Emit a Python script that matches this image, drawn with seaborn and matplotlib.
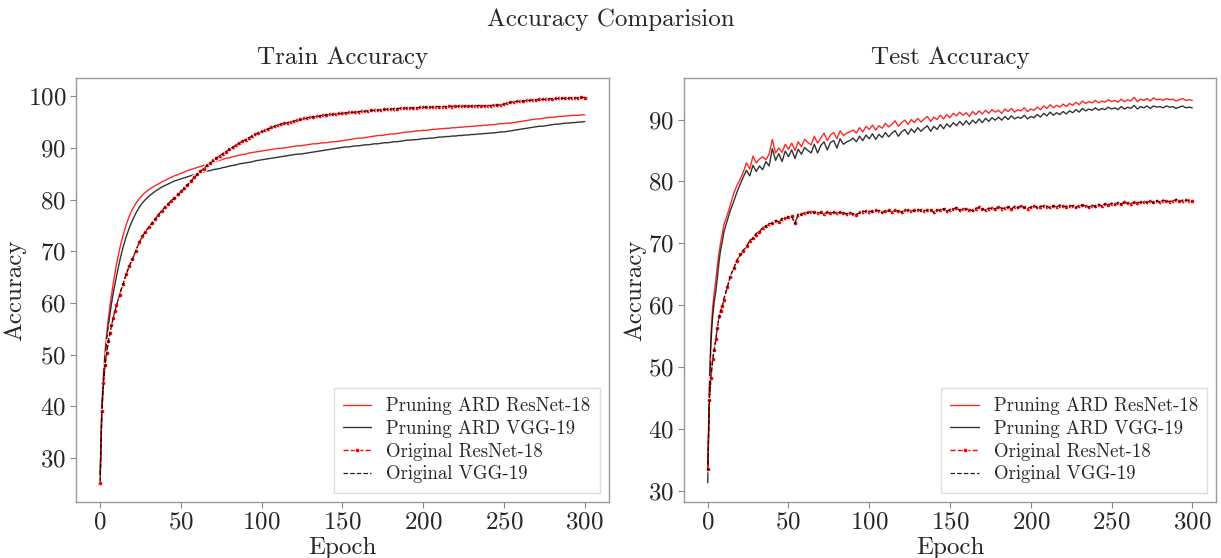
import numpy as np
import pandas as pd
import matplotlib
matplotlib.use('Agg')
import matplotlib.pyplot as plt
import seaborn as sns

# epochs: every epoch up to 10, then every 2nd epoch
epochs = list(range(0, 11)) + list(range(12, 301, 2))

# ---- train accuracy ----
train_pruning_resnet = [
    27.0, 40.0, 46.2, 50.6, 54.0, 56.8, 59.3, 61.5, 63.6, 65.5, 67.3,
    70.4, 72.9, 75.0, 76.8, 78.1, 79.2, 80.1, 80.8, 81.4, 81.9,
    82.3, 82.7, 83.0, 83.4, 83.7, 84.0, 84.3, 84.6, 84.8, 85.1,
    85.3, 85.6, 85.8, 86.0, 86.2, 86.4, 86.6, 86.8, 87.0, 87.2,
    87.4, 87.6, 87.8, 88.0, 88.1, 88.3, 88.4, 88.6, 88.7, 88.8,
    89.0, 89.1, 89.2, 89.3, 89.4, 89.5, 89.6, 89.7, 89.8, 89.9,
    89.9, 90.0, 90.1, 90.2, 90.3, 90.4, 90.4, 90.5, 90.6, 90.7,
    90.8, 90.8, 90.9, 91.0, 91.0, 91.1, 91.2, 91.2, 91.3, 91.4,
    91.5, 91.6, 91.7, 91.8, 91.9, 91.9, 92.0, 92.1, 92.2, 92.3,
    92.4, 92.4, 92.5, 92.6, 92.7, 92.7, 92.8, 92.9, 93.0, 93.1,
    93.1, 93.2, 93.3, 93.3, 93.4, 93.4, 93.5, 93.6, 93.6, 93.7,
    93.7, 93.8, 93.8, 93.9, 93.9, 94.0, 94.0, 94.1, 94.1, 94.2,
    94.2, 94.3, 94.3, 94.4, 94.4, 94.5, 94.5, 94.6, 94.7, 94.7,
    94.8, 94.8, 94.9, 95.0, 95.1, 95.2, 95.3, 95.4, 95.5, 95.6,
    95.6, 95.7, 95.8, 95.9, 95.9, 96.0, 96.1, 96.1, 96.2, 96.2,
    96.3, 96.3, 96.3, 96.4, 96.4]
train_pruning_vgg = [
    26.4, 38.5, 45.0, 49.3, 52.6, 55.3, 57.7, 59.8, 61.7, 63.4, 65.0,
    68.0, 70.6, 72.7, 74.5, 76.0, 77.3, 78.4, 79.3, 80.0, 80.6,
    81.1, 81.6, 82.0, 82.4, 82.7, 83.0, 83.3, 83.6, 83.8, 84.0,
    84.2, 84.4, 84.6, 84.8, 85.0, 85.1, 85.3, 85.5, 85.6, 85.8,
    85.9, 86.0, 86.2, 86.3, 86.5, 86.6, 86.7, 86.9, 87.0, 87.1,
    87.2, 87.3, 87.5, 87.6, 87.7, 87.8, 87.9, 88.0, 88.1, 88.2,
    88.3, 88.4, 88.5, 88.6, 88.7, 88.8, 88.8, 88.9, 89.0, 89.1,
    89.2, 89.3, 89.4, 89.5, 89.6, 89.7, 89.8, 89.9, 90.0, 90.1,
    90.2, 90.2, 90.3, 90.4, 90.4, 90.5, 90.6, 90.6, 90.7, 90.8,
    90.8, 90.9, 91.0, 91.0, 91.1, 91.2, 91.2, 91.3, 91.4, 91.5,
    91.5, 91.6, 91.6, 91.7, 91.8, 91.8, 91.9, 91.9, 92.0, 92.1,
    92.1, 92.2, 92.2, 92.3, 92.3, 92.4, 92.4, 92.5, 92.5, 92.6,
    92.6, 92.7, 92.7, 92.8, 92.8, 92.9, 92.9, 93.0, 93.1, 93.1,
    93.2, 93.3, 93.4, 93.5, 93.6, 93.7, 93.8, 93.9, 94.0, 94.1,
    94.2, 94.2, 94.3, 94.4, 94.5, 94.6, 94.6, 94.7, 94.8, 94.8,
    94.9, 94.9, 95.0, 95.0, 95.1]
train_orig_resnet = [
    25.2, 39.0, 44.5, 48.0, 50.3, 52.6, 54.2, 55.7, 57.1, 58.4, 59.5,
    61.6, 63.6, 65.5, 67.2, 68.5, 70.1, 71.7, 72.9, 73.8, 74.7,
    75.5, 76.3, 77.1, 77.8, 78.6, 79.2, 79.8, 80.4, 81.0, 81.6,
    82.2, 82.9, 83.6, 84.3, 84.9, 85.5, 86.0, 86.6, 87.1, 87.6,
    88.1, 88.5, 88.9, 89.3, 89.7, 90.1, 90.5, 90.9, 91.3, 91.6,
    92.0, 92.3, 92.6, 92.9, 93.2, 93.5, 93.7, 94.0, 94.2, 94.4,
    94.6, 94.8, 94.9, 95.1, 95.2, 95.4, 95.5, 95.7, 95.8, 95.9,
    96.0, 96.1, 96.2, 96.3, 96.4, 96.5, 96.5, 96.6, 96.7, 96.7,
    96.8, 96.9, 96.9, 97.0, 97.0, 97.1, 97.2, 97.2, 97.3, 97.3,
    97.4, 97.4, 97.5, 97.5, 97.6, 97.6, 97.6, 97.7, 97.7, 97.7,
    97.8, 97.8, 97.8, 97.9, 97.9, 97.9, 97.9, 98.0, 98.0, 98.0,
    98.0, 98.0, 98.1, 98.0, 98.1, 98.1, 98.1, 98.1, 98.1, 98.1,
    98.2, 98.2, 98.1, 98.2, 98.2, 98.2, 98.3, 98.3, 98.4, 98.5,
    98.7, 98.8, 98.9, 99.0, 99.1, 99.1, 99.2, 99.2, 99.3, 99.3,
    99.4, 99.4, 99.5, 99.5, 99.5, 99.6, 99.6, 99.6, 99.6, 99.7,
    99.7, 99.7, 99.7, 99.8, 99.7]
train_orig_vgg = [
    25.4, 38.8, 44.3, 47.8, 50.2, 52.4, 54.1, 55.6, 57.0, 58.3, 59.4,
    61.5, 63.5, 65.4, 67.1, 68.5, 70.0, 71.6, 72.8, 73.8, 74.6,
    75.4, 76.2, 77.0, 77.8, 78.5, 79.1, 79.8, 80.3, 80.9, 81.5,
    82.1, 82.8, 83.5, 84.2, 84.8, 85.4, 86.0, 86.5, 87.0, 87.5,
    88.0, 88.5, 88.9, 89.3, 89.7, 90.1, 90.5, 90.9, 91.2, 91.6,
    91.9, 92.3, 92.6, 92.9, 93.1, 93.4, 93.7, 93.9, 94.2, 94.4,
    94.6, 94.7, 94.9, 95.0, 95.2, 95.3, 95.5, 95.6, 95.8, 95.9,
    96.0, 96.1, 96.2, 96.3, 96.4, 96.4, 96.5, 96.6, 96.6, 96.7,
    96.8, 96.8, 96.9, 96.9, 97.0, 97.1, 97.1, 97.2, 97.2, 97.3,
    97.3, 97.4, 97.4, 97.5, 97.5, 97.6, 97.6, 97.7, 97.7, 97.7,
    97.7, 97.8, 97.8, 97.8, 97.9, 97.9, 97.9, 97.9, 98.0, 98.0,
    98.0, 98.0, 98.0, 98.1, 98.0, 98.1, 98.1, 98.1, 98.1, 98.1,
    98.1, 98.2, 98.2, 98.1, 98.2, 98.2, 98.3, 98.3, 98.3, 98.5,
    98.6, 98.8, 98.9, 99.0, 99.0, 99.1, 99.1, 99.2, 99.3, 99.3,
    99.3, 99.4, 99.4, 99.5, 99.5, 99.5, 99.6, 99.6, 99.6, 99.6,
    99.7, 99.7, 99.7, 99.7, 99.8]

# ---- test accuracy ----
test_pruning_resnet = [
    33.5, 47.0, 55.5, 59.5, 62.0, 64.0, 66.5, 68.5, 70.2, 71.5, 73.0,
    74.5, 76.2, 78.0, 79.3, 80.3, 81.5, 83.0, 82.0, 84.1, 83.0,
    83.6, 84.0, 83.5, 84.4, 86.8, 84.6, 85.4, 84.7, 86.0, 85.2,
    86.2, 85.0, 86.4, 85.6, 86.8, 86.3, 85.9, 87.3, 86.2, 87.0,
    87.8, 86.6, 87.5, 87.9, 86.9, 88.2, 87.4, 87.8, 88.0, 88.3,
    87.8, 88.7, 88.0, 88.9, 88.4, 89.1, 88.3, 89.0, 88.6, 89.4,
    88.8, 89.2, 89.8, 88.9, 89.5, 89.9, 89.2, 90.0, 89.5, 90.2,
    89.6, 90.1, 90.5, 89.7, 90.4, 90.0, 90.7, 90.1, 90.8, 90.3,
    91.0, 90.6, 91.2, 90.7, 91.1, 90.5, 91.3, 90.8, 91.4, 90.9,
    91.5, 91.0, 91.6, 91.2, 91.5, 91.0, 91.7, 91.3, 91.8, 91.2,
    91.6, 91.4, 91.9, 91.3, 91.7, 91.5, 92.0, 91.6, 92.2, 91.8,
    92.4, 91.9, 92.3, 92.0, 92.5, 92.1, 92.6, 92.3, 92.8, 92.4,
    93.0, 92.6, 92.9, 92.7, 93.1, 92.7, 93.0, 92.8, 93.2, 92.9,
    93.1, 92.8, 93.3, 92.9, 93.2, 93.0, 93.6, 92.9, 93.3, 93.1,
    93.4, 93.0, 93.5, 93.2, 93.3, 93.1, 93.4, 93.2, 93.3, 93.0,
    93.2, 93.4, 93.1, 93.2, 93.1]
test_pruning_vgg = [
    31.3, 45.5, 54.0, 58.0, 60.5, 62.2, 64.5, 67.0, 69.0, 70.2, 71.8,
    73.6, 75.3, 76.7, 78.2, 79.5, 80.7, 81.8, 80.9, 82.6, 81.6,
    82.5, 81.9, 83.2, 82.5, 85.3, 83.4, 84.5, 83.2, 84.9, 84.0,
    85.1, 83.7, 85.2, 84.4, 85.5, 85.0, 84.6, 86.0, 84.6, 85.8,
    86.4, 85.1, 86.3, 86.6, 85.4, 86.9, 86.0, 86.4, 86.6, 87.0,
    86.4, 87.3, 86.6, 87.5, 86.9, 87.7, 86.8, 87.6, 87.1, 87.9,
    87.2, 87.8, 88.2, 87.3, 88.0, 88.4, 87.6, 88.5, 87.9, 88.7,
    88.1, 88.6, 89.0, 88.1, 88.9, 88.4, 89.2, 88.5, 89.3, 88.8,
    89.5, 89.0, 89.7, 89.1, 89.8, 89.2, 89.9, 89.4, 90.1, 89.5,
    90.2, 89.7, 90.3, 89.9, 90.4, 89.9, 90.5, 90.0, 90.6, 90.1,
    90.4, 90.2, 90.7, 90.1, 90.5, 90.3, 90.8, 90.4, 91.0, 90.6,
    91.2, 90.7, 91.1, 90.8, 91.3, 90.9, 91.4, 91.1, 91.6, 91.2,
    91.8, 91.4, 91.7, 91.5, 91.9, 91.5, 91.8, 91.6, 92.0, 91.7,
    91.9, 91.6, 92.1, 91.7, 92.0, 91.8, 92.3, 91.7, 92.1, 91.9,
    92.2, 91.8, 92.2, 92.0, 92.1, 91.9, 92.2, 92.0, 92.1, 91.8,
    92.0, 92.2, 91.9, 92.0, 91.9]
test_orig_resnet = [
    33.5, 44.7, 48.2, 51.3, 52.7, 54.5, 56.3, 58.2, 59.0, 59.8, 60.9,
    62.9, 64.6, 66.0, 67.1, 68.2, 68.7, 69.6, 70.3, 70.9, 71.4,
    71.9, 72.5, 72.8, 73.1, 73.3, 73.6, 73.5, 73.9, 74.1, 74.2,
    74.4, 73.3, 74.6, 74.7, 74.9, 75.0, 75.1, 75.0, 74.9, 75.0,
    74.8, 75.0, 74.9, 75.0, 74.9, 75.0, 74.9, 74.8, 74.9, 74.8,
    74.6, 75.0, 75.1, 75.2, 75.1, 75.2, 75.3, 75.2, 75.0, 75.2,
    75.3, 75.1, 75.3, 75.2, 75.1, 75.3, 75.4, 75.2, 75.3, 75.4,
    75.3, 75.2, 75.4, 75.3, 75.1, 75.3, 75.4, 75.5, 75.2, 75.4,
    75.6, 75.7, 75.4, 75.5, 75.6, 75.4, 75.3, 75.6, 75.8, 75.5,
    75.4, 75.6, 75.7, 75.5, 75.9, 75.6, 75.7, 75.8, 75.6, 75.9,
    75.8, 76.0, 75.8, 75.6, 75.9, 76.0, 75.8, 75.9, 76.1, 75.9,
    75.8, 76.0, 75.9, 76.1, 76.0, 75.9, 76.1, 76.0, 75.8, 76.1,
    76.2, 76.0, 75.9, 76.1, 76.0, 76.2, 76.1, 76.3, 76.2, 76.4,
    76.3, 76.5, 76.4, 76.6, 76.5, 76.4, 76.6, 76.5, 76.7, 76.6,
    76.7, 76.8, 76.6, 76.8, 76.7, 76.9, 76.8, 76.7, 76.9, 77.0,
    76.8, 76.9, 77.0, 76.9, 76.8]
test_orig_vgg = [
    33.2, 44.5, 48.4, 51.1, 52.9, 54.3, 56.5, 58.0, 59.2, 59.7, 61.1,
    62.7, 64.8, 65.8, 67.3, 68.0, 68.9, 69.4, 70.5, 70.8, 71.6,
    71.8, 72.6, 72.7, 73.2, 73.2, 73.7, 73.4, 74.0, 74.0, 74.3,
    74.3, 73.2, 74.7, 74.6, 75.0, 74.9, 75.2, 74.9, 75.0, 74.9,
    74.9, 74.9, 75.0, 74.9, 75.0, 74.9, 75.0, 74.7, 75.0, 74.7,
    74.7, 74.9, 75.2, 75.1, 75.2, 75.1, 75.2, 75.3, 74.9, 75.3,
    75.2, 75.2, 75.2, 75.3, 75.0, 75.4, 75.3, 75.3, 75.2, 75.5,
    75.2, 75.3, 75.3, 75.4, 75.0, 75.4, 75.3, 75.6, 75.1, 75.5,
    75.5, 75.8, 75.3, 75.6, 75.5, 75.5, 75.2, 75.7, 75.7, 75.6,
    75.3, 75.7, 75.6, 75.6, 75.8, 75.7, 75.6, 75.9, 75.5, 76.0,
    75.7, 76.1, 75.7, 75.7, 75.8, 76.1, 75.7, 76.0, 76.0, 76.0,
    75.7, 76.1, 75.8, 76.2, 75.9, 76.0, 76.0, 76.1, 75.7, 76.2,
    76.1, 76.1, 75.8, 76.2, 75.9, 76.3, 76.0, 76.4, 76.1, 76.5,
    76.2, 76.6, 76.3, 76.7, 76.4, 76.5, 76.5, 76.6, 76.6, 76.7,
    76.6, 76.9, 76.5, 76.9, 76.6, 77.0, 76.7, 76.8, 76.8, 77.1,
    76.7, 77.0, 76.9, 77.0, 76.7]

labels = ['Pruning ARD ResNet-18', 'Pruning ARD VGG-19', 'Original ResNet-18', 'Original VGG-19']

sns.set_style('white')
plt.rcParams['font.family'] = ['cmr10', 'DejaVu Serif']
plt.rcParams['mathtext.fontset'] = 'cm'
plt.rcParams['axes.formatter.use_mathtext'] = True
plt.rcParams['axes.unicode_minus'] = False

fig, axes = plt.subplots(1, 2, figsize=(12.21, 5.58), dpi=100)
fig.subplots_adjust(left=0.0622, right=0.9963, bottom=0.1004, top=0.8602, wspace=0.14)

panels = [
    (axes[0], 'Train Accuracy', [train_pruning_resnet, train_pruning_vgg, train_orig_resnet, train_orig_vgg],
     [30, 40, 50, 60, 70, 80, 90, 100]),
    (axes[1], 'Test Accuracy', [test_pruning_resnet, test_pruning_vgg, test_orig_resnet, test_orig_vgg],
     [30, 40, 50, 60, 70, 80, 90]),
]
styles = [
    dict(color='red', linestyle='-', linewidth=1.0, alpha=0.85),
    dict(color='black', linestyle='-', linewidth=1.0, alpha=0.8),
    dict(color='red', linestyle='--', linewidth=1.0, marker='.', markersize=7),
    dict(color='black', linestyle='--', linewidth=0.9, alpha=0.85),
]

for ax, title, series, yt in panels:
    for vals, lab, st in zip(series, labels, styles):
        df = pd.DataFrame({'Epoch': epochs, 'Accuracy': vals})
        sns.lineplot(data=df, x='Epoch', y='Accuracy', ax=ax, label=lab, **st)
    ax.set_title(title, fontsize=18, pad=10)
    ax.set_xlabel('Epoch', fontsize=18, labelpad=2)
    ax.set_ylabel('Accuracy', fontsize=18, labelpad=1)
    ax.set_xticks([0, 50, 100, 150, 200, 250, 300])
    ax.set_yticks(yt)
    ax.tick_params(axis='both', labelsize=18, direction='out', length=4, width=0.8,
                   color='#888888', bottom=True, left=True, pad=3)
    for sp in ax.spines.values():
        sp.set_color('#999999')
        sp.set_linewidth(1.0)
    leg = ax.legend(loc='lower right', fontsize=13.5, handlelength=1.5, borderpad=0.5,
                    labelspacing=0.25, fancybox=False, framealpha=1, borderaxespad=0.5)
    leg.get_frame().set_edgecolor('#dddddd')

fig.suptitle('Accuracy Comparision', fontsize=18, y=0.965, va='center')
fig.savefig('out.png', dpi=100)
